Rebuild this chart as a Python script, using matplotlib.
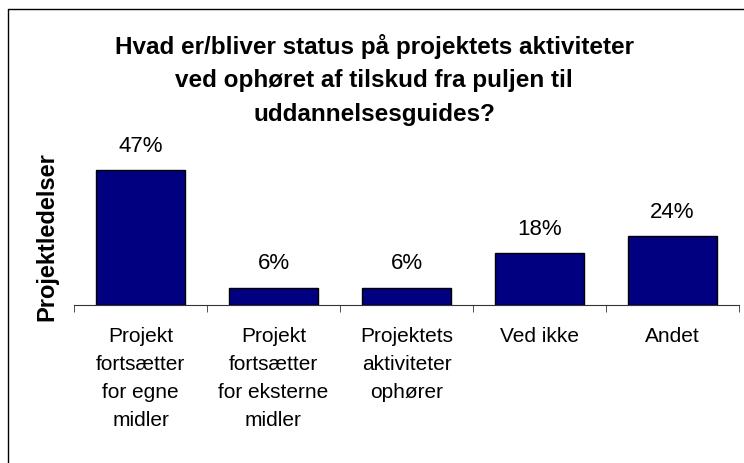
import matplotlib.pyplot as plt
import numpy as np
from matplotlib.lines import Line2D

categories = [
    "Projekt\nfortsætter\nfor egne\nmidler",
    "Projekt\nfortsætter\nfor eksterne\nmidler",
    "Projektets\naktiviteter\nophører",
    "Ved ikke",
    "Andet",
]
values = [47, 6, 6, 18, 24]
value_labels = ["47%", "6%", "6%", "18%", "24%"]
title = "Hvad er/bliver status på projektets aktiviteter\nved ophøret af tilskud fra puljen til\nuddannelsesguides?"
ylabel = "Projektledelser"

plt.rcParams["font.family"] = ["Liberation Sans", "DejaVu Sans"]

W, H = 744, 464
fig = plt.figure(figsize=(W / 100, H / 100), dpi=100)
fig.patch.set_facecolor("white")

# frame around the chart (only left and top edges visible)
fig.add_artist(Line2D([8 / W, 8 / W, 1.0], [0.0, 1 - 10 / H, 1 - 10 / H],
                      transform=fig.transFigure, color="black", lw=1.0))

left, right = 74 / W, 739 / W
bottom, top = 1 - 306 / H, 1 - 162.5 / H
ax = fig.add_axes([left, bottom, right - left, top - bottom])

x = np.arange(len(categories))
bars = ax.bar(x, values, width=0.67, color="#000080", edgecolor="black", linewidth=1.0)

for rect, lab in zip(bars, value_labels):
    ax.annotate(lab, (rect.get_x() + rect.get_width() / 2, rect.get_height()),
                xytext=(0, 10.5), textcoords="offset points", ha="center", va="bottom",
                fontsize=16, annotation_clip=False)

ax.set_xlim(-0.5, len(categories) - 0.5)
ax.set_ylim(0, 50)
ax.set_yticks([])
for s in ("top", "right", "left"):
    ax.spines[s].set_visible(False)
ax.spines["bottom"].set_color("#333333")

ax.set_xticks(x)
ax.set_xticklabels(categories, fontsize=15, linespacing=1.6, va="top")
ax.tick_params(axis="x", which="major", length=0, pad=15)
ax.set_xticks(np.arange(-0.5, len(categories)), minor=True)
ax.tick_params(axis="x", which="minor", length=5, direction="out", color="#333333")

fig.text(0.503, 1 - 80 / H, title, ha="center", va="center", fontsize=17.5,
         fontweight="bold", linespacing=1.6)
fig.text(47 / W, 1 - 237 / H, ylabel, rotation=90, ha="center", va="center",
         fontsize=17, fontweight="bold")

fig.savefig("out.png", dpi=100, facecolor="white")
